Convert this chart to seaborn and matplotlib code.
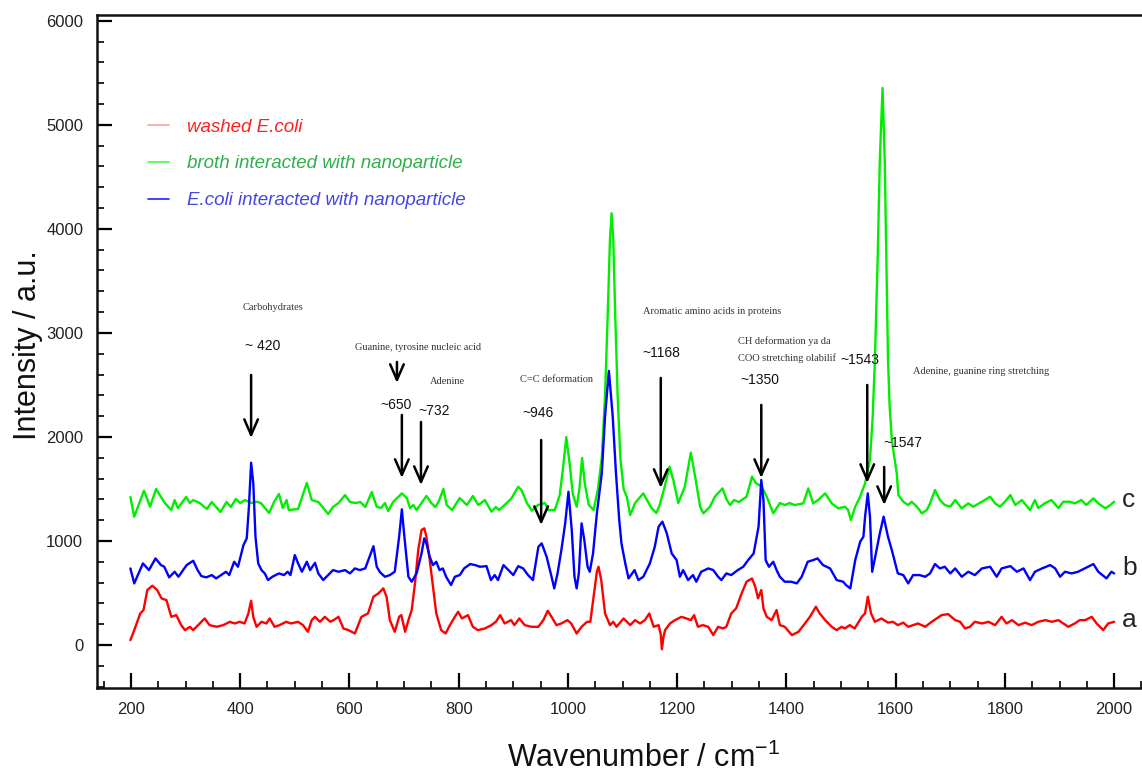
import numpy as np
import pandas as pd
import seaborn as sns
import matplotlib.pyplot as plt
from matplotlib.ticker import MultipleLocator

# Raman spectra (wavenumber, intensity)
green_x = [199, 206, 224, 235, 246, 262, 274, 280, 286, 301, 308, 314, 326, 339, 348, 364, 375, 383, 392, 400,
           409, 420, 430, 438, 453, 462, 471, 478, 485, 489, 506, 522, 531, 543, 551, 561, 570, 580, 592, 601,
           611, 620, 629, 641, 650, 658, 665, 671, 680, 696, 705, 711, 717, 723, 741, 750, 757, 763, 772, 778,
           788, 802, 815, 826, 836, 848, 860, 868, 874, 888, 897, 909, 915, 925, 934, 945, 958, 964, 976, 985,
           991, 997, 1003, 1009, 1016, 1021, 1026, 1031, 1038, 1047, 1055, 1062, 1068, 1073, 1077, 1080, 1083,
           1087, 1091, 1096, 1102, 1108, 1114, 1123, 1138, 1153, 1162, 1168, 1176, 1186, 1193, 1202, 1214, 1225,
           1233, 1242, 1248, 1260, 1269, 1283, 1291, 1297, 1304, 1313, 1327, 1337, 1344, 1355, 1364, 1376, 1388,
           1397, 1406, 1415, 1431, 1440, 1449, 1458, 1471, 1483, 1495, 1507, 1513, 1518, 1526, 1535, 1544, 1553,
           1558, 1562, 1567, 1571, 1576, 1580, 1583, 1586, 1589, 1593, 1602, 1605, 1614, 1623, 1629, 1639, 1648,
           1657, 1663, 1672, 1681, 1690, 1700, 1709, 1721, 1733, 1742, 1758, 1773, 1782, 1791, 1800, 1810, 1819,
           1831, 1846, 1855, 1861, 1873, 1885, 1898, 1907, 1919, 1928, 1940, 1949, 1962, 1971, 1984, 1993, 2000]
green_y = [1423, 1234, 1484, 1330, 1500, 1365, 1298, 1394, 1317, 1423, 1365, 1394, 1365, 1308, 1375, 1279, 1375,
           1327, 1404, 1365, 1394, 1365, 1378, 1365, 1269, 1375, 1452, 1317, 1394, 1298, 1308, 1558, 1394, 1375,
           1327, 1260, 1327, 1365, 1442, 1375, 1365, 1375, 1327, 1471, 1330, 1317, 1365, 1288, 1375, 1458, 1413,
           1317, 1346, 1298, 1433, 1365, 1327, 1375, 1500, 1346, 1298, 1413, 1346, 1433, 1346, 1394, 1282, 1327,
           1298, 1365, 1413, 1522, 1490, 1365, 1292, 1346, 1365, 1298, 1298, 1442, 1700, 2000, 1750, 1450, 1330,
           1500, 1798, 1550, 1350, 1298, 1500, 1800, 2400, 3200, 3900, 4150, 3900, 3100, 2400, 1800, 1500, 1420,
           1250, 1365, 1458, 1317, 1269, 1346, 1500, 1715, 1587, 1365, 1522, 1849, 1618, 1330, 1266, 1330, 1426,
           1506, 1394, 1346, 1394, 1375, 1426, 1618, 1558, 1522, 1426, 1266, 1365, 1346, 1365, 1346, 1362, 1506,
           1362, 1394, 1458, 1362, 1314, 1330, 1298, 1202, 1330, 1426, 1555, 1779, 2200, 2740, 3700, 4663, 5353,
           4663, 3700, 2740, 2300, 1971, 1651, 1442, 1378, 1346, 1378, 1330, 1266, 1298, 1362, 1490, 1394, 1346,
           1330, 1394, 1314, 1362, 1330, 1378, 1426, 1362, 1330, 1378, 1442, 1346, 1394, 1298, 1394, 1317, 1362,
           1394, 1317, 1378, 1378, 1362, 1394, 1346, 1410, 1362, 1314, 1346, 1378]

blue_x = [199, 206, 222, 233, 245, 255, 261, 270, 280, 287, 302, 314, 322, 329, 338, 348, 356, 365, 374, 380,
          389, 396, 406, 412, 416, 420, 424, 428, 433, 439, 445, 451, 459, 471, 480, 487, 492, 500, 506, 513,
          522, 528, 537, 543, 552, 558, 570, 580, 592, 601, 610, 619, 629, 638, 644, 650, 656, 665, 674, 683,
          691, 696, 700, 708, 714, 723, 732, 737, 741, 747, 753, 759, 765, 771, 777, 786, 793, 802, 810, 821,
          830, 839, 851, 859, 866, 872, 882, 891, 900, 909, 918, 927, 936, 946, 952, 961, 970, 975, 981, 988,
          995, 1001, 1007, 1012, 1016, 1020, 1025, 1030, 1036, 1040, 1046, 1053, 1062, 1068, 1075, 1082, 1088,
          1094, 1098, 1105, 1111, 1122, 1129, 1138, 1150, 1159, 1166, 1173, 1181, 1190, 1199, 1205, 1211, 1220,
          1229, 1235, 1244, 1257, 1266, 1275, 1281, 1290, 1299, 1311, 1321, 1330, 1340, 1349, 1354, 1358, 1362,
          1368, 1376, 1382, 1388, 1397, 1409, 1419, 1428, 1439, 1449, 1457, 1467, 1480, 1492, 1504, 1509, 1517,
          1526, 1535, 1541, 1544, 1549, 1553, 1557, 1562, 1571, 1578, 1586, 1593, 1604, 1614, 1623, 1632, 1644,
          1654, 1663, 1672, 1681, 1690, 1700, 1709, 1721, 1733, 1745, 1758, 1773, 1785, 1794, 1810, 1822, 1834,
          1846, 1855, 1868, 1883, 1892, 1901, 1910, 1922, 1934, 1946, 1962, 1971, 1986, 1995, 2000]
blue_y = [737, 593, 785, 721, 833, 769, 753, 651, 705, 657, 769, 811, 721, 663, 651, 673, 641, 673, 705, 673,
          801, 753, 961, 1026, 1330, 1753, 1554, 1041, 785, 721, 689, 625, 657, 689, 673, 705, 673, 865, 785, 705,
          801, 721, 791, 689, 625, 657, 721, 705, 721, 689, 737, 721, 737, 865, 951, 753, 700, 657, 673, 705,
          1041, 1305, 1074, 657, 609, 689, 881, 1026, 977, 849, 769, 801, 721, 737, 657, 577, 657, 673, 737, 779,
          769, 753, 759, 625, 673, 625, 769, 721, 673, 759, 737, 673, 625, 945, 978, 849, 657, 545, 689, 913,
          1170, 1474, 1106, 657, 545, 689, 1170, 1010, 753, 705, 881, 1266, 1651, 2200, 2635, 2200, 1650,
          1200, 978, 785, 641, 721, 625, 657, 785, 945, 1138, 1186, 1074, 881, 817, 657, 721, 625,
          673, 609, 705, 737, 721, 657, 625, 689, 673, 721, 753, 817, 881, 1138, 1587, 1394, 817,
          753, 801, 721, 657, 609, 609, 593, 657, 801, 817, 833, 769, 737, 625, 609, 577, 545,
          817, 993, 1042, 1234, 1458, 1234, 705, 833, 1074, 1234, 1041, 913, 689, 673, 593, 673, 673,
          657, 689, 779, 737, 753, 689, 737, 657, 705, 673, 737, 753, 657, 737, 759, 705, 737,
          625, 705, 737, 769, 737, 657, 705, 689, 705, 737, 779, 705, 641, 705, 689]

red_x = [199, 205, 217, 223, 230, 239, 248, 256, 265, 274, 283, 292, 299, 308, 314, 326, 335, 344, 357, 369,
         381, 390, 399, 408, 415, 420, 424, 430, 439, 448, 454, 463, 472, 484, 493, 506, 515, 524, 531, 537,
         546, 555, 565, 571, 580, 589, 598, 610, 622, 634, 644, 653, 662, 668, 674, 683, 691, 695, 702, 708,
         714, 720, 726, 732, 737, 741, 747, 753, 759, 768, 776, 784, 793, 799, 806, 817, 826, 835, 848, 860,
         868, 876, 884, 890, 896, 902, 911, 921, 933, 946, 955, 963, 970, 979, 988, 999, 1006, 1016, 1025,
         1035, 1041, 1047, 1053, 1056, 1061, 1068, 1077, 1083, 1089, 1102, 1108, 1114, 1123, 1132, 1141, 1149,
         1157, 1166, 1170, 1172, 1175, 1178, 1187, 1196, 1208, 1217, 1225, 1231, 1238, 1247, 1257, 1266, 1275,
         1284, 1290, 1299, 1308, 1318, 1327, 1337, 1343, 1348, 1354, 1358, 1364, 1373, 1382, 1388, 1397, 1410,
         1422, 1434, 1443, 1454, 1461, 1471, 1483, 1492, 1501, 1507, 1516, 1525, 1538, 1544, 1549, 1555, 1562,
         1574, 1586, 1595, 1604, 1614, 1623, 1632, 1641, 1654, 1666, 1675, 1684, 1696, 1709, 1718, 1727, 1736,
         1745, 1758, 1770, 1782, 1794, 1803, 1813, 1825, 1837, 1849, 1861, 1874, 1886, 1898, 1907, 1916, 1928,
         1937, 1947, 1959, 1968, 1980, 1989, 2000]
red_y = [48, 128, 304, 337, 529, 571, 529, 449, 432, 272, 288, 192, 144, 176, 144, 208, 256, 192, 176, 192,
         224, 208, 224, 208, 304, 426, 272, 176, 224, 208, 256, 176, 192, 224, 208, 224, 192, 128, 240, 272,
         224, 272, 224, 240, 272, 160, 144, 112, 272, 304, 465, 497, 545, 465, 240, 128, 272, 288, 128, 240,
         337, 593, 913, 1106, 1122, 1042, 817, 561, 304, 144, 112, 192, 272, 320, 256, 288, 176, 144, 160, 192,
         224, 288, 208, 224, 240, 192, 256, 192, 176, 176, 240, 330, 272, 192, 208, 240, 208, 112, 176,
         224, 224, 465, 705, 753, 625, 304, 192, 224, 176, 256, 224, 192, 240, 208, 240, 304,
         176, 192, 100, -40, 80, 144, 208, 240, 272, 256, 240, 288, 176, 192, 176, 96, 176,
         160, 176, 304, 353, 497, 609, 641, 561, 449, 529, 353, 272, 240, 337, 192, 176, 96,
         128, 208, 272, 369, 304, 240, 176, 144, 176, 160, 192, 160, 272, 304, 465, 304, 224,
         256, 216, 224, 192, 216, 176, 192, 208, 176, 224, 256, 288, 298, 240, 224, 160, 176,
         224, 208, 224, 192, 272, 208, 240, 192, 216, 192, 224, 240, 224, 240, 208, 176, 208,
         240, 240, 272, 208, 144, 208, 224]

series_names = ['washed E.coli', 'broth interacted with nanoparticle', 'E.coli interacted with nanoparticle']
line_colors = ['#ff0000', '#00ee00', '#0000ff']
legend_text_colors = ['#ff2020', '#2fb04a', '#4646e6']
legend_handle_colors = ['#ffa0a0', '#40ff40', '#2020ff']

# (label, x, y, font kind)
notes = [('Carbohydrates', 405, 3240, 'serif'),
         ('~ 420', 409, 2875, 'sans'),
         ('Guanine, tyrosine nucleic acid', 610, 2856, 'serif'),
         ('Adenine', 747, 2529, 'serif'),
         ('~650', 656, 2308, 'sans'),
         ('~732', 726, 2250, 'sans'),
         ('C=C deformation', 912, 2548, 'serif'),
         ('~946', 916, 2231, 'sans'),
         ('Aromatic amino acids in proteins', 1138, 3202, 'serif'),
         ('~1168', 1137, 2808, 'sans'),
         ('CH deformation ya da', 1312, 2923, 'serif'),
         ('COO stretching olabilif', 1312, 2760, 'serif'),
         ('~1350', 1315, 2548, 'sans'),
         ('~1543', 1498, 2740, 'sans'),
         ('Adenine, guanine ring stretching', 1632, 2625, 'serif'),
         ('~1547', 1577, 1942, 'sans')]

# arrows: x, start y, tip y
arrow_x = [420, 687, 696, 731, 951, 1170, 1354, 1548, 1579]
arrow_y0 = [2596, 2721, 2212, 2144, 1971, 2567, 2308, 2500, 1712]
arrow_y1 = [1990, 2519, 1606, 1538, 1154, 1510, 1606, 1558, 1346]

curve_tags = ['c', 'b', 'a']
tag_y = [1394, 740, 240]

sns.set_style('ticks')
plt.rcParams['font.family'] = ['Liberation Sans', 'DejaVu Sans']
plt.rcParams['mathtext.fontset'] = 'custom'
plt.rcParams['mathtext.rm'] = 'Liberation Sans'

frames = []
for name, xs, ys in zip(series_names, [red_x, green_x, blue_x], [red_y, green_y, blue_y]):
    frames.append(pd.DataFrame({'wavenumber': xs, 'intensity': ys, 'sample': name}))
df = pd.concat(frames, ignore_index=True)

fig = plt.figure(figsize=(11.42, 7.74), dpi=100)
ax = fig.add_axes([0.085, 0.111, 0.915, 0.870])

for name, color in zip(series_names, line_colors):
    sub = df[df['sample'] == name]
    sns.lineplot(data=sub, x='wavenumber', y='intensity', color=color, lw=1.7,
                 label=name, sort=False, estimator=None, ax=ax)

ax.set_xlim(138, 2051)
ax.set_ylim(-413, 6058)
ax.xaxis.set_major_locator(MultipleLocator(200))
ax.xaxis.set_minor_locator(MultipleLocator(50))
ax.yaxis.set_major_locator(MultipleLocator(1000))
ax.yaxis.set_minor_locator(MultipleLocator(200))
ax.tick_params(which='major', direction='in', length=11, width=1.6, labelsize=12, pad=10,
               color='black', labelcolor='#222222')
ax.tick_params(which='minor', direction='in', length=5, width=1.2, color='black')
for side in ['left', 'bottom', 'top']:
    ax.spines[side].set_linewidth(1.8)
    ax.spines[side].set_color('#111111')
ax.spines['right'].set_visible(False)
ax.tick_params(top=False, right=False, which='both')

ax.set_xlabel('Wavenumber / cm$^{\\mathrm{-1}}$', fontsize=22, color='#111111')
ax.set_ylabel('Intensity / a.u.', fontsize=22, color='#111111')
ax.xaxis.set_label_coords(0.523, -0.081)
ax.yaxis.set_label_coords(-0.052, 0.51)

for text, x, y, kind in notes:
    if kind == 'serif':
        ax.text(x, y, text, family='Liberation Serif', fontsize=7.5, color='#333333', va='center')
    else:
        ax.text(x, y, text, fontsize=10, color='#111111', va='center')

for x, y0, y1 in zip(arrow_x, arrow_y0, arrow_y1):
    ax.annotate('', xy=(x, y1), xytext=(x, y0),
                arrowprops=dict(arrowstyle='->,head_length=0.8,head_width=0.35',
                                lw=1.8, color='black', mutation_scale=14, shrinkA=0, shrinkB=0))

for t, y in zip(curve_tags, tag_y):
    ax.text(2015, y, t, fontsize=19, va='center', ha='left', clip_on=False)

leg = ax.legend(loc='upper left', bbox_to_anchor=(0.049, 0.846), frameon=False,
                borderpad=0, borderaxespad=0, handlelength=1.1, handletextpad=0.95,
                labelspacing=1.05, prop={'style': 'italic', 'size': 13.5})
for txt, c in zip(leg.get_texts(), legend_text_colors):
    txt.set_color(c)
for h, c in zip(leg.legend_handles, legend_handle_colors):
    h.set_color(c)
    h.set_linewidth(1.2)

fig.savefig('out.png', dpi=100)
